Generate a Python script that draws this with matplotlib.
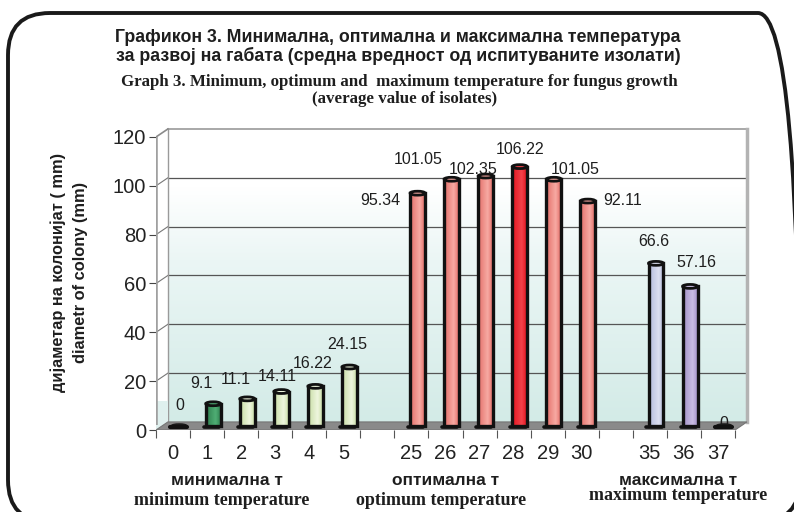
import numpy as np
import matplotlib.pyplot as plt
from matplotlib import font_manager
from matplotlib.patches import Rectangle, Ellipse, Polygon, FancyBboxPatch
from matplotlib.colors import LinearSegmentedColormap

# data
min_temps = [0, 1, 2, 3, 4, 5]
min_vals = [0, 9.1, 11.1, 14.11, 16.22, 24.15]
opt_temps = [25, 26, 27, 28, 29, 30]
opt_vals = [95.34, 101.05, 102.35, 106.22, 101.05, 92.11]
max_temps = [35, 36, 37]
max_vals = [66.6, 57.16, 0]
group_mk = ["минимална т", "оптимална т", "максимална т"]
group_en = ["minimum temperature", "optimum temperature", "maximum temperature"]
y_ticks = [0, 20, 40, 60, 80, 100, 120]

# styles (dark edge colour, light highlight colour) per bar
bar_colors = ([("#1a1a1a", "#1a1a1a"), ("#2f7f4f", "#4fae74")] + [("#c9dea6", "#eef6de")] * 4
              + [("#e46f69", "#f7aaa3")] * 3 + [("#e3141f", "#f2424a")] + [("#e46f69", "#f7aaa3")] * 2
              + [("#b4bbdc", "#dcdff0"), ("#a492c8", "#c9bde3"), ("#1a1a1a", "#1a1a1a")])
# label offsets in pixels (dx, dy) from the bar top, as placed in the original
label_offsets = [(1, 25), (-12, 24), (-12, 23), (-4, 19), (-3, 27), (-2, 27),
                 (-37, -3), (-33, 24), (-13, 11), (0, 21), (21, 14), (35, 5),
                 (-2, 26), (6, 28), (0, 7)]
# group label x centres in px (cyrillic line, english line) and english baseline
group_pos = [(227, 222, 505), (446, 441, 505), (678, 678, 500)]

W, H = 794, 512
SW = 34.06     # slot width in px
UH = 2.4417    # px per unit on y
dx, dy = 0.35, 3.3   # depth of the fake 3d box in data units

names = {f.name for f in font_manager.fontManager.ttflist}
narrow = "Liberation Sans Narrow" if "Liberation Sans Narrow" in names else "Liberation Sans"
title_size = 14.5 if narrow == "Liberation Sans Narrow" else 12.8
plt.rcParams["font.family"] = ["Liberation Sans", "DejaVu Sans"]


def fx(px):
    return px / W


def fy(py):
    return 1 - py / H


# slot positions: groups separated by one empty slot
temps = min_temps + opt_temps + max_temps
vals = min_vals + opt_vals + max_vals
slots = (list(range(len(min_temps)))
         + [len(min_temps) + 1 + i for i in range(len(opt_temps))]
         + [len(min_temps) + len(opt_temps) + 2 + i for i in range(len(max_temps))])
n_slots = slots[-1] + 1

fig = plt.figure(figsize=(W / 100, H / 100), dpi=100)
ax = fig.add_axes([fx(156), 1 - 430 / H, 17.45 * SW / W, 124 * UH / H])

# back wall with gradient
wall_cmap = LinearSegmentedColormap.from_list("wall", [(0, "#d3ebe7"), (0.55, "#ebf6f5"), (0.8, "#ffffff"), (1, "#ffffff")])
grad = np.linspace(0, 1, 256).reshape(-1, 1)
ax.imshow(grad, extent=(dx, n_slots + dx, dy, 120 + dy), cmap=wall_cmap, aspect="auto",
          origin="lower", zorder=0)
for v in y_ticks[1:-1]:
    ax.plot([dx, n_slots + dx], [v + dy, v + dy], color="#555555", lw=0.9, zorder=1)
    ax.plot([0, dx], [v, v + dy], color="#777777", lw=0.8, zorder=1)
ax.plot([dx, n_slots + dx], [120 + dy, 120 + dy], color="#9a9a9a", lw=1.2, zorder=1)
ax.plot([dx, dx], [dy, 120 + dy], color="#9a9a9a", lw=1.0, zorder=1)
ax.plot([n_slots + dx, n_slots + dx], [dy, 120 + dy], color="#b3b3b3", lw=2.5, zorder=1)
ax.plot([0, dx], [120, 120 + dy], color="#8a8a8a", lw=1.2, zorder=1)
# left side wall
ax.add_patch(Rectangle((0, 0), dx, 12, facecolor="#dff0ee", edgecolor="none", zorder=1))
ax.plot([0, 0], [2, 120], color="#a0a0a0", lw=2.6, zorder=2, solid_capstyle="butt")

# floor
ax.add_patch(Polygon([(0, 0), (n_slots, 0), (n_slots + dx, dy), (dx, dy)], closed=True,
                     facecolor="#8a8a8a", edgecolor="#757575", lw=0.8, zorder=2))

# bars
bw = 0.44
for i, (s, v) in enumerate(zip(slots, vals)):
    cx = s + 0.5 + 0.18
    base = dy / 2
    c_dark, c_light = bar_colors[i]
    if v == 0:
        ax.add_patch(Ellipse((cx, base), bw, 1.4, facecolor="#1a1a1a", edgecolor="#1a1a1a",
                             lw=1.5, zorder=5))
        ax.plot([cx - bw / 2 - 0.05, cx + bw / 2], [base - 0.4, base - 0.4], color="#111111",
                lw=3, zorder=5, solid_capstyle="round")
    else:
        rect = Rectangle((cx - bw / 2, base), bw, v, facecolor="none", edgecolor="#111111",
                         lw=2.4, zorder=4)
        ax.add_patch(rect)
        cm = LinearSegmentedColormap.from_list("b%d" % i, [(0, c_dark), (0.65, c_light), (1, c_dark)])
        im = ax.imshow(np.linspace(0, 1, 64).reshape(1, -1), extent=(cx - bw / 2, cx + bw / 2, base, base + v),
                       cmap=cm, aspect="auto", zorder=3, interpolation="bilinear")
        im.set_clip_path(rect)
        ax.add_patch(Ellipse((cx, base + v), bw, 1.6, facecolor=c_light, edgecolor="#111111",
                             lw=2, zorder=5))
        ax.plot([cx - bw / 2 - 0.06, cx + bw / 2 - 0.05], [base - 0.5, base - 0.5], color="#111111",
                lw=2.6, zorder=5, solid_capstyle="round")
    ox, oy = label_offsets[i]
    ax.annotate(f"{v:g}", xy=(cx, v), xytext=(ox, oy), textcoords="offset pixels",
                ha="center", va="center", fontsize=11.5, color="#1e1e1e", zorder=4)

# axes and ticks
ax.set_xlim(0, 17.45)
ax.set_ylim(0, 124)
for sp in ax.spines.values():
    sp.set_visible(False)
ax.set_yticks(y_ticks)
ax.set_yticklabels([str(t) for t in y_ticks], fontsize=14.5, color="#222222")
ax.tick_params(axis="y", length=5, width=0.8, color="#444444", pad=2)
ax.set_xticks([s + 0.5 for s in slots])
ax.set_xticklabels([str(t) for t in temps], fontsize=14.5, color="#222222")
ax.set_xticks(range(n_slots + 1), minor=True)
ax.tick_params(axis="x", which="major", length=0, pad=10)
ax.tick_params(axis="x", which="minor", length=6, width=0.8, color="#555555")

# group labels below the axis
for mk, en, (xm, xe, ye) in zip(group_mk, group_en, group_pos):
    fig.text(fx(xm), fy(485), mk, ha="center", va="baseline", fontsize=12.5,
             fontweight="bold", color="#1e1e1e")
    fig.text(fx(xe), fy(ye), en, ha="center", va="baseline",
             fontsize=13, fontweight="bold", family="Liberation Serif", color="#1e1e1e")

# y axis title
fig.text(fx(58), fy(272), "дијаметар на колонијат ( mm)", rotation=90, ha="center", va="center",
         fontsize=11.8, fontweight="bold", color="#1e1e1e")
fig.text(fx(80), fy(272), "diametr of colony (mm)", rotation=90, ha="center", va="center",
         fontsize=11.8, fontweight="bold", color="#1e1e1e")

# titles
fig.text(fx(398), fy(42), "Графикон 3. Минимална, оптимална и максимална температура",
         ha="center", va="baseline", fontsize=title_size, fontweight="bold", family=narrow, color="#1e1e1e")
fig.text(fx(398), fy(61), "за развој на габата (средна вредност од испитуваните изолати)",
         ha="center", va="baseline", fontsize=title_size, fontweight="bold", family=narrow, color="#1e1e1e")
fig.text(fx(399), fy(86), "Graph 3. Minimum, optimum and  maximum temperature for fungus growth",
         ha="center", va="baseline", fontsize=12.2, fontweight="bold", family="Liberation Serif", color="#1e1e1e")
fig.text(fx(405), fy(103), "(average value of isolates)",
         ha="center", va="baseline", fontsize=12.2, fontweight="bold", family="Liberation Serif", color="#1e1e1e")

# rounded frame around everything
frame = FancyBboxPatch((0.08, -0.1), 7.92, 4.99 + 0.1, boxstyle="round,pad=0,rounding_size=0.42",
                       transform=fig.dpi_scale_trans, fill=False, lw=2.8, ec="#1a1a1a")
fig.add_artist(frame)

fig.savefig("out.png", dpi=100)
